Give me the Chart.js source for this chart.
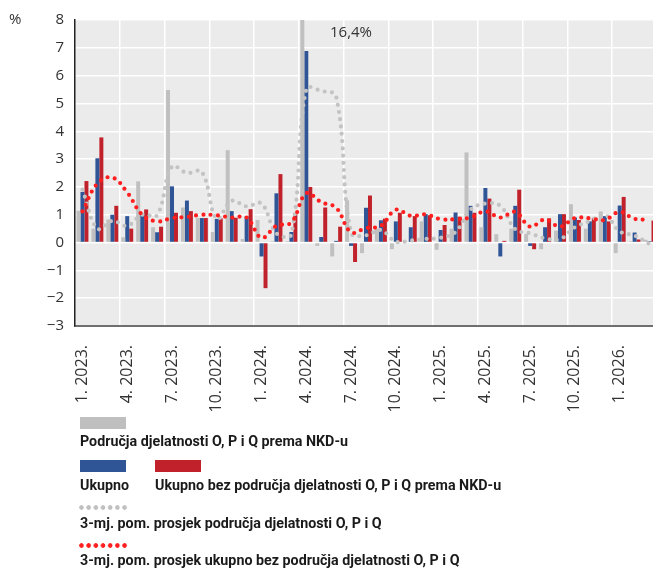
<!DOCTYPE html>
<html><head><meta charset="utf-8">
<script src="https://cdn.jsdelivr.net/npm/chart.js@4"></script>
<style>
html,body{margin:0;padding:0;background:#fff;overflow:hidden;width:653px;height:569px;}
#wrap{position:relative;width:653px;height:569px;overflow:hidden;}
canvas{position:absolute;left:0;top:0;}
.t{position:absolute;font-family:"Open Sans",sans-serif;color:#333;white-space:nowrap;line-height:18px;}
.lg{position:absolute;font-family:Roboto,"Noto Sans",sans-serif;font-weight:700;font-size:15.5px;color:#1a1a1a;white-space:nowrap;line-height:18px;transform-origin:0 50%;}
.sw{position:absolute;height:12px;width:46px;}
.dots{position:absolute;height:5px;width:50px;background-repeat:repeat-x;background-size:7.2px 5px;}
</style></head>
<body><div id="wrap">
<canvas id="c" width="657" height="426"></canvas>
<div class="t" style="left:9px;top:9px;font-size:15px">%</div>
<div class="t" id="ann" style="left:330px;top:22px;font-size:15px"></div>
<div class="sw" style="left:80px;top:417px;background:#bfbfbf"></div>
<div class="lg" id="l1" style="left:80px;top:432px"></div>
<div class="sw" style="left:80px;top:460px;background:#2f5597"></div>
<div class="sw" style="left:155px;top:460px;background:#c0212b"></div>
<div class="lg" id="l2" style="left:80px;top:476px"></div>
<div class="lg" id="l3" style="left:155px;top:476px"></div>
<div class="dots" style="left:79px;top:505px;background-image:radial-gradient(circle at 2.5px 2.5px,#c0c0c0 2px,rgba(0,0,0,0) 2.6px)"></div>
<div class="lg" id="l4" style="left:80px;top:514px"></div>
<div class="dots" style="left:79px;top:543px;background-image:radial-gradient(circle at 2.5px 2.5px,#ff1f1f 2px,rgba(0,0,0,0) 2.6px)"></div>
<div class="lg" id="l5" style="left:80px;top:551px"></div>
</div>
<script>
const months = [
 "1. 2023.","2. 2023.","3. 2023.","4. 2023.","5. 2023.","6. 2023.","7. 2023.","8. 2023.","9. 2023.","10. 2023.","11. 2023.","12. 2023.",
 "1. 2024.","2. 2024.","3. 2024.","4. 2024.","5. 2024.","6. 2024.","7. 2024.","8. 2024.","9. 2024.","10. 2024.","11. 2024.","12. 2024.",
 "1. 2025.","2. 2025.","3. 2025.","4. 2025.","5. 2025.","6. 2025.","7. 2025.","8. 2025.","9. 2025.","10. 2025.","11. 2025.","12. 2025.",
 "1. 2026.","2. 2026.","3. 2026."
];
const seriesNames = [
 "Područja djelatnosti O, P i Q prema NKD-u",
 "Ukupno",
 "Ukupno bez područja djelatnosti O, P i Q prema NKD-u",
 "3-mj. pom. prosjek područja djelatnosti O, P i Q",
 "3-mj. pom. prosjek ukupno bez područja djelatnosti O, P i Q"
];
const grayBars = [1.14,0.50,0.83,0.19,2.20,0.55,5.48,1.26,0.88,0.38,3.32,0.13,
 0.81,0.05,0.05,16.4,-0.12,-0.50,1.52,-0.38,0.50,-0.24,0.03,0.76,
 -0.26,0.50,3.24,0.55,0.30,0.50,0.31,-0.24,0.43,1.38,0.50,1.12,
 -0.38,0.05,0.10];
const blueBars = [1.82,3.03,1.00,0.95,1.02,0.37,2.02,1.51,0.88,0.85,1.13,0.94,
 -0.50,1.77,0.38,6.89,0.20,0.06,-0.12,1.25,0.80,0.76,0.55,1.02,
 0.45,1.08,1.32,1.96,-0.50,1.32,-0.12,0.55,1.02,0.90,0.76,0.95,
 1.33,0.36,0.05];
const redBars = [2.21,3.78,1.32,0.50,1.19,0.57,1.07,1.13,0.88,0.87,0.89,1.20,
 -1.64,2.46,1.03,2.00,1.26,0.57,-0.70,1.69,0.86,1.07,0.95,0.98,
 0.63,0.93,1.07,1.58,0.06,1.90,-0.24,0.87,1.02,0.81,0.88,0.76,
 1.64,0.11,0.79];
const grayAvg = [1.90,0.50,0.78,0.60,1.00,0.98,2.73,2.50,2.54,0.85,1.50,1.30,
 1.40,0.33,0.30,5.52,5.45,5.25,0.35,0.26,0.45,0.03,0.07,0.13,
 0.17,0.38,1.18,1.40,1.32,0.48,0.33,0.15,0.12,0.55,0.77,1.00,
 0.40,0.25,-0.05];
const redAvg = [1.12,2.12,2.34,1.80,1.00,0.76,0.88,0.92,1.00,0.98,0.90,0.90,
 0.17,0.60,0.72,1.77,1.45,1.25,0.37,0.52,0.60,1.18,0.96,1.01,
 0.84,0.84,0.90,1.12,0.90,1.10,0.57,0.83,0.57,0.88,0.87,0.81,
 1.10,0.85,0.83];
const yMin = -3, yMax = 8, yStep = 1;

const legendIds = ['l1','l2','l3','l4','l5'];
legendIds.forEach((id, i) => { document.getElementById(id).textContent = seriesNames[i]; });
// condense legend text to the narrow width of the original typeface
const natural = document.getElementById('l1').getBoundingClientRect().width;
const squeeze = natural > 0 ? 268 / natural : 1;
legendIds.forEach((id) => { document.getElementById(id).style.transform = 'scaleX(' + squeeze + ')'; });

const peak = Math.max(...grayBars);
document.getElementById('ann').textContent = String(peak).replace('.', ',') + '%';

const bgPlugin = {
  id: 'bg',
  beforeDraw(chart) {
    const {ctx, chartArea: a} = chart;
    ctx.save();
    ctx.fillStyle = '#ebebeb';
    ctx.fillRect(a.left, a.top, a.right - a.left, a.bottom - a.top);
    ctx.restore();
  }
};

const barCommon = {categoryPercentage: 0.8, barPercentage: 1.0, order: 2, clip: 0, borderWidth: 0};
new Chart(document.getElementById('c'), {
  type: 'bar',
  data: {
    labels: months,
    datasets: [
      {type: 'line', label: seriesNames[4], data: redAvg, borderColor: '#ff1f1f', borderWidth: 4.2,
       borderDash: [0, 7.3], borderCapStyle: 'round', pointRadius: 0, tension: 0.4, fill: false, order: 0},
      {type: 'line', label: seriesNames[3], data: grayAvg, borderColor: '#c3c3c3', borderWidth: 4.2,
       borderDash: [0, 7.3], borderCapStyle: 'round', pointRadius: 0, tension: 0.4, fill: false, order: 1},
      Object.assign({label: seriesNames[0], data: grayBars, backgroundColor: '#c0c0c0'}, barCommon),
      Object.assign({label: seriesNames[1], data: blueBars, backgroundColor: '#2f5597'}, barCommon),
      Object.assign({label: seriesNames[2], data: redBars, backgroundColor: '#c0212b'}, barCommon)
    ]
  },
  options: {
    responsive: false,
    animation: false,
    events: [],
    layout: {padding: {top: 18, left: 0, right: 0, bottom: 0}},
    plugins: {legend: {display: false}, tooltip: {enabled: false}},
    scales: {
      x: {
        offset: true,
        grid: {offset: true, drawTicks: false, lineWidth: 1.5,
               color: (c) => (c.index > 0 && c.index % 3 === 0) ? '#ffffff' : 'rgba(0,0,0,0)'},
        border: {display: true, color: '#6f6f6f', width: 2},
        ticks: {autoSkip: false, minRotation: 90, maxRotation: 90, padding: 19, color: '#333',
                font: {family: 'Open Sans', size: 16},
                callback: (v, i) => (i % 3 === 0 ? months[i] : '')},
        afterFit: (s) => { s.height = 100; s.paddingLeft = 0; s.paddingRight = 0; }
      },
      y: {
        min: yMin, max: yMax,
        ticks: {stepSize: yStep, padding: 11, color: '#333', font: {family: 'Open Sans', size: 15},
                callback: (v) => (v < 0 ? '\u2212' + Math.abs(v) : String(v))},
        grid: {color: '#ffffff', lineWidth: 1.5, drawTicks: false},
        border: {display: true, color: '#222', width: 1.5},
        afterFit: (s) => { s.width = 75; }
      }
    }
  },
  plugins: [bgPlugin]
});
</script>
</body></html>
